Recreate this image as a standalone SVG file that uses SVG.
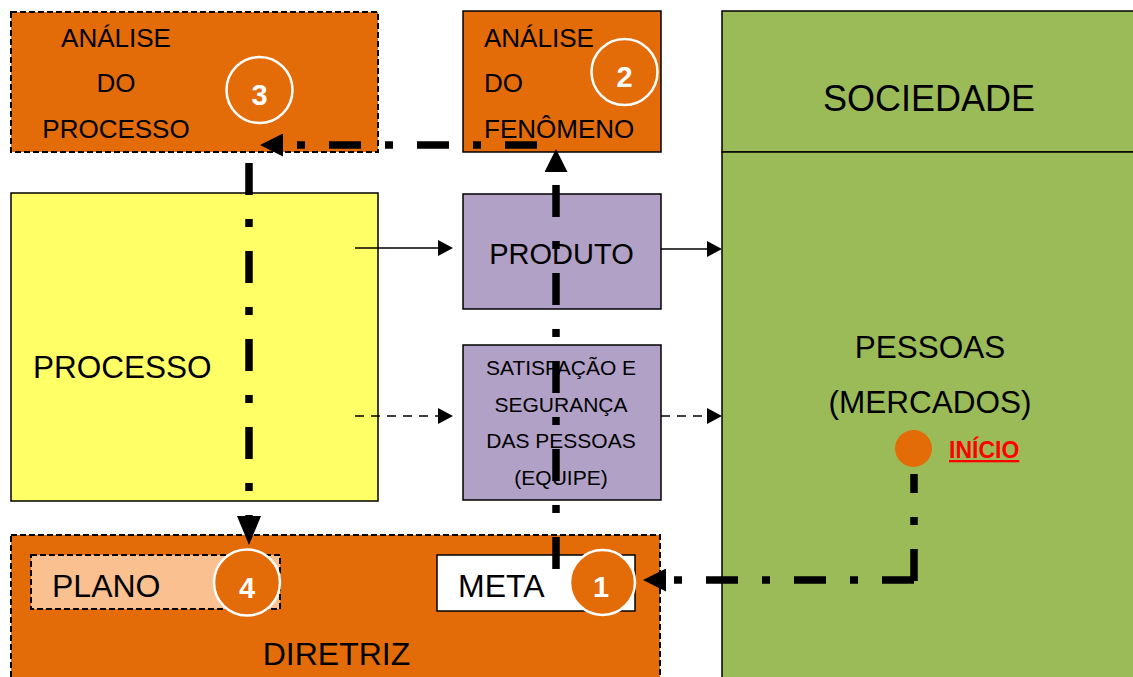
<svg xmlns="http://www.w3.org/2000/svg" width="1133" height="677" viewBox="0 0 1133 677">
  <style>
    .lbl { font-family: "Liberation Sans", Arial, sans-serif; fill: #000; }
    .num { font-family: "Liberation Sans", Arial, sans-serif; font-weight: bold; font-size: 29px; fill: #fff; text-anchor: middle; }
    .box { stroke: #000; stroke-width: 1.5; }
    .dashed { stroke-width: 2; stroke-dasharray: 6 3; }
    .orange { fill: #E36C09; }
    .green { fill: #9BBB59; }
    .purple { fill: #B2A1C7; }
    .ring { stroke: #fff; stroke-width: 2.5; }
    .flow { fill: none; stroke: #000; stroke-width: 7.5; stroke-dasharray: 32 24 8 24; }
    .thin { fill: none; stroke: #000; stroke-width: 1.5; }
    .thin-dash { stroke-dasharray: 9 7; }
  </style>
  <defs>
    <marker id="bigArrow" markerUnits="userSpaceOnUse" markerWidth="23" markerHeight="23" refX="0" refY="11.5" orient="auto">
      <path d="M0,0 L23,11.5 L0,23 Z" fill="#000"/>
    </marker>
    <marker id="longArrow" markerUnits="userSpaceOnUse" markerWidth="29" markerHeight="24" refX="0" refY="12" orient="auto">
      <path d="M0,0 L29,12 L0,24 Z" fill="#000"/>
    </marker>
    <marker id="smallArrow" markerUnits="userSpaceOnUse" markerWidth="15" markerHeight="16" refX="0" refY="8" orient="auto">
      <path d="M0,0 L15,8 L0,16 Z" fill="#000"/>
    </marker>
  </defs>

  <rect width="1133" height="677" fill="#fff"/>

  <!-- Society column -->
  <g id="sociedade">
    <rect class="box green" x="722" y="11" width="420" height="141"/>
    <text class="lbl" x="929" y="111" font-size="36" text-anchor="middle">SOCIEDADE</text>
  </g>
  <g id="pessoas">
    <rect class="box green" x="722" y="152" width="420" height="540"/>
    <text class="lbl" x="930" y="358" font-size="31.5" text-anchor="middle">PESSOAS</text>
    <text class="lbl" x="930" y="413" font-size="31.5" text-anchor="middle">(MERCADOS)</text>
  </g>
  <g id="inicio">
    <circle cx="913.5" cy="448.5" r="18.5" fill="#E36C09"/>
    <text x="949" y="458" font-family="Liberation Sans, Arial, sans-serif" font-weight="bold" font-size="23" fill="#FF0000" text-decoration="underline">INÍCIO</text>
  </g>

  <!-- Analysis boxes -->
  <g id="analise-processo">
    <rect class="box dashed orange" x="11" y="12" width="367" height="140"/>
    <text class="lbl" x="116" y="47" font-size="26" text-anchor="middle">ANÁLISE</text>
    <text class="lbl" x="116" y="92" font-size="26" text-anchor="middle">DO</text>
    <text class="lbl" x="116" y="138" font-size="26" text-anchor="middle">PROCESSO</text>
    <circle class="ring" cx="259.5" cy="90" r="33" fill="none"/>
    <text class="num" x="259.5" y="105">3</text>
  </g>
  <g id="analise-fenomeno">
    <rect class="box orange" x="463" y="11" width="198" height="141"/>
    <text class="lbl" x="484" y="47" font-size="26">ANÁLISE</text>
    <text class="lbl" x="484" y="92" font-size="26">DO</text>
    <text class="lbl" x="484" y="138" font-size="26">FENÔMENO</text>
    <circle class="ring" cx="624.5" cy="72" r="33" fill="none"/>
    <text class="num" x="624.5" y="87">2</text>
  </g>

  <!-- Process and outputs -->
  <g id="processo">
    <rect class="box" x="11" y="193" width="367" height="308" fill="#FFFF66"/>
    <text class="lbl" x="33" y="378" font-size="31.5">PROCESSO</text>
  </g>
  <g id="produto">
    <rect class="box purple" x="463" y="194" width="198" height="115"/>
    <text class="lbl" x="561.5" y="264" font-size="29" text-anchor="middle">PRODUTO</text>
  </g>
  <g id="satisfacao">
    <rect class="box purple" x="463" y="345" width="198" height="155"/>
    <text class="lbl" x="561" y="375" font-size="21" text-anchor="middle">SATISFAÇÃO E</text>
    <text class="lbl" x="561" y="411.5" font-size="21" text-anchor="middle">SEGURANÇA</text>
    <text class="lbl" x="561" y="448" font-size="21" text-anchor="middle">DAS PESSOAS</text>
    <text class="lbl" x="561" y="484.5" font-size="21" text-anchor="middle">(EQUIPE)</text>
  </g>

  <!-- Guideline block -->
  <g id="diretriz">
    <rect class="box dashed orange" x="11" y="535" width="649" height="160"/>
    <text class="lbl" x="336.5" y="665" font-size="32" text-anchor="middle">DIRETRIZ</text>
  </g>
  <g id="plano">
    <rect class="box dashed" x="31" y="555" width="249" height="54" fill="#FAC090"/>
    <text class="lbl" x="52" y="597" font-size="32">PLANO</text>
  </g>
  <g id="meta">
    <rect class="box" x="437" y="555" width="198" height="56" fill="#fff"/>
    <text class="lbl" x="458" y="597" font-size="32">META</text>
  </g>

  <!-- Connectors -->
  <g id="connectors">
    <path class="thin" d="M355,248 L438,248" marker-end="url(#smallArrow)"/>
    <path class="thin" d="M661,249 L707,249" marker-end="url(#smallArrow)"/>
    <path class="thin thin-dash" d="M355,416 L438,416" marker-end="url(#smallArrow)"/>
    <path class="thin thin-dash" d="M661,416 L707,416" marker-end="url(#smallArrow)"/>

    <path class="flow" d="M914,474 L914,584" stroke-dashoffset="13"/>
    <path class="flow" d="M914,580 L666,580" marker-end="url(#bigArrow)"/>
    <path class="flow" d="M556,569 L556,172" marker-end="url(#bigArrow)"/>
    <path class="flow" d="M537,145 L283,145" marker-end="url(#bigArrow)"/>
    <path class="flow" d="M249,163 L249,516" marker-end="url(#longArrow)"/>
  </g>

  <!-- Step markers drawn over the boxes -->
  <g id="step-4">
    <circle class="ring orange" cx="247" cy="582.5" r="33"/>
    <text class="num" x="247" y="598">4</text>
  </g>
  <g id="step-1">
    <circle class="ring orange" cx="602.5" cy="582.5" r="32.5"/>
    <text class="num" x="601" y="597">1</text>
  </g>
</svg>
